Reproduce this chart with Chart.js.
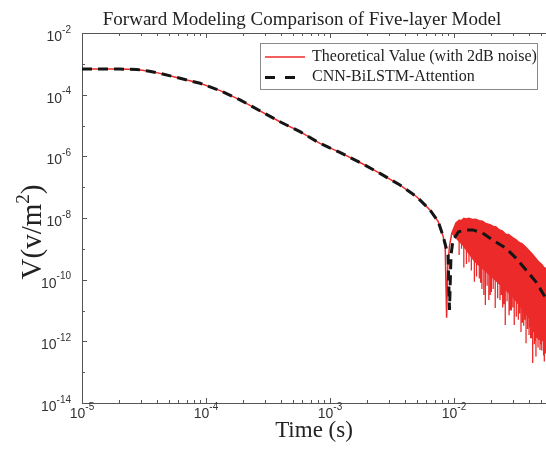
<!DOCTYPE html>
<html><head><meta charset="utf-8">
<script src="https://cdn.jsdelivr.net/npm/chart.js@4.4.0/dist/chart.umd.min.js"></script>
<style>html,body{margin:0;padding:0;background:#fff}#wrap{width:546px;height:451px;position:relative}</style>
</head><body><div id="wrap"><canvas id="c" width="546" height="451"></canvas></div>
<script>
// ---------- text ----------
const titleText = 'Forward Modeling Comparison of Five-layer Model';
const xTitle = 'Time (s)';
const yTitleParts = ['V(v/m', '2', ')'];   // "V(v/m" + superscript "2" + ")"
const seriesNames = ['Theoretical Value (with 2dB noise)', 'CNN-BiLSTM-Attention'];

// ---------- tick labels ----------
const xTickValues = [1e-5, 1e-4, 1e-3, 1e-2];
const xTickExponents = ['-5', '-4', '-3', '-2'];
const yTickValues = [1e-2, 1e-4, 1e-6, 1e-8, 1e-10, 1e-12, 1e-14];
const yTickExponents = ['-2', '-4', '-6', '-8', '-10', '-12', '-14'];

// ---------- theoretical (red): smooth part, dip, then the ragged upper edge of the noisy part ----------
const theoryTime = [1e-5, 1.5e-5, 2e-5, 2.76e-5, 3.5e-5, 4.26e-5, 5.8e-5, 8.96e-5, 1.3e-4, 1.88e-4, 2.72e-4, 3.95e-4, 5.73e-4, 8.3e-4, 1.2e-3, 1.75e-3, 2.53e-3, 3.67e-3, 5.0e-3, 6.4e-3, 7.46e-3, 8.2e-3, 8.5e-3, 8.72e-3, 8.9e-3, 9.2e-3, 9.6e-3,
  1.037e-2, 1.1e-2, 1.15e-2, 1.2e-2, 1.25e-2, 1.32e-2, 1.4e-2, 1.5e-2, 1.59e-2, 1.7e-2, 1.8e-2, 1.95e-2, 2.05e-2, 2.18e-2, 2.3e-2, 2.45e-2, 2.6e-2, 2.75e-2, 2.97e-2, 3.15e-2, 3.35e-2, 3.55e-2, 3.81e-2, 4.05e-2, 4.3e-2, 4.55e-2, 4.84e-2, 5.1e-2, 5.3e-2, 5.52e-2];
const theoryValue = [6.8e-4, 6.8e-4, 6.75e-4, 6.6e-4, 5.75e-4, 4.9e-4, 3.63e-4, 2.34e-4, 1.35e-4, 6.8e-5, 3.0e-5, 1.32e-5, 6.3e-6, 2.63e-6, 1.35e-6, 6.3e-7, 2.8e-7, 1.17e-7, 4.9e-8, 1.82e-8, 7.6e-9, 2.45e-9, 1.0e-9, 5.8e-12, 2.5e-10, 1.26e-9, 3.2e-9,
  6.9e-9, 8.5e-9, 8.3e-9, 9.8e-9, 9.3e-9, 9.8e-9, 8.9e-9, 9.1e-9, 8.2e-9, 7.8e-9, 6.6e-9, 6.1e-9, 5.4e-9, 5.1e-9, 4.2e-9, 3.8e-9, 3.0e-9, 2.9e-9, 2.3e-9, 2.0e-9, 1.6e-9, 1.45e-9, 1.1e-9, 8.5e-10, 6.5e-10, 5.0e-10, 3.7e-10, 3.1e-10, 2.5e-10, 2.3e-10];

// ---------- lower edge of the dense noise band ----------
const bandTime = [9.6e-3, 1.037e-2, 1.175e-2, 1.476e-2, 1.81e-2, 2.35e-2, 2.97e-2, 3.58e-2, 4.31e-2, 5.19e-2, 5.52e-2];
const bandLow = [3.2e-9, 2.2e-9, 1.3e-9, 3.7e-10, 1.8e-10, 6.8e-11, 2.75e-11, 1.05e-11, 3.9e-12, 1.86e-12, 1.3e-12];

// ---------- downward noise spikes (time, start inside band, lowest value) ----------
const spikeTime = [1.1e-2, 1.15e-2, 1.2e-2, 1.26e-2, 1.32e-2, 1.38e-2, 1.46e-2, 1.52e-2, 1.6e-2, 1.64e-2, 1.68e-2, 1.74e-2, 1.79e-2, 1.85e-2, 1.91e-2, 1.96e-2, 2.0e-2, 2.07e-2, 2.15e-2, 2.25e-2, 2.35e-2, 2.41e-2, 2.47e-2, 2.53e-2, 2.59e-2, 2.68e-2, 2.78e-2, 2.84e-2, 2.9e-2, 2.98e-2, 3.06e-2, 3.18e-2, 3.3e-2, 3.38e-2, 3.47e-2, 3.56e-2, 3.65e-2, 3.73e-2, 3.81e-2, 3.92e-2, 4.03e-2, 4.09e-2, 4.15e-2, 4.23e-2, 4.31e-2, 4.38e-2, 4.45e-2, 4.52e-2, 4.58e-2, 4.66e-2, 4.76e-2, 4.86e-2, 4.94e-2, 5.02e-2, 5.1e-2, 5.2e-2, 5.28e-2, 5.35e-2, 5.4e-2, 5.45e-2, 5.5e-2];
const spikeTop = [3.5e-9, 3e-9, 2.5e-9, 2e-9, 1.4e-9, 1.1e-9, 8e-10, 6.5e-10, 5.6e-10, 5e-10, 4.7e-10, 4e-10, 3.7e-10, 3.3e-10, 3e-10, 2.7e-10, 2.5e-10, 2.2e-10, 2e-10, 1.7e-10, 1.35e-10, 1.2e-10, 1.1e-10, 1e-10, 9.5e-11, 8.3e-11, 7.2e-11, 6.6e-11, 6e-11, 5.3e-11, 4.8e-11, 4e-11, 3.2e-11, 2.8e-11, 2.5e-11, 2.2e-11, 1.9e-11, 1.7e-11, 1.5e-11, 1.3e-11, 1.1e-11, 1e-11, 9.5e-12, 8.7e-12, 7.8e-12, 7.2e-12, 6.8e-12, 6.4e-12, 6e-12, 5.5e-12, 5e-12, 4.7e-12, 4.5e-12, 4.2e-12, 4e-12, 3.6e-12, 3.4e-12, 3.2e-12, 3e-12, 2.8e-12, 2.7e-12];
const spikeLow = [6.3e-10, 1e-9, 2.5e-10, 3.2e-10, 3.7e-10, 2e-10, 8.5e-11, 1.26e-10, 1.1e-10, 8e-11, 5e-11, 3.2e-11, 1.5e-11, 6.3e-11, 2.2e-11, 3.2e-11, 4e-11, 5e-11, 1.2e-11, 2.5e-11, 2.2e-11, 3.2e-11, 1.26e-11, 1.6e-11, 3.4e-12, 2e-11, 7e-12, 1e-11, 1e-11, 1.26e-11, 3.4e-12, 6.3e-12, 5e-12, 8e-12, 2e-12, 4e-12, 3.2e-12, 5e-12, 8.7e-13, 2.5e-12, 1.6e-12, 2.8e-12, 1.26e-12, 1.26e-12, 2e-13, 2e-12, 8e-13, 1e-12, 3.2e-13, 1.26e-12, 6.3e-13, 1.1e-12, 5.2e-13, 8e-13, 5e-13, 1e-12, 3.5e-13, 2.2e-13, 8e-13, 4e-13, 5e-13];

// ---------- CNN-BiLSTM-Attention (black dashed) ----------
const cnnTime = [1e-5, 1.5e-5, 2e-5, 2.76e-5, 3.5e-5, 4.26e-5, 5.8e-5, 8.96e-5, 1.3e-4, 1.88e-4, 2.72e-4, 3.95e-4, 5.73e-4, 8.3e-4, 1.2e-3, 1.75e-3, 2.53e-3, 3.67e-3, 5.0e-3, 6.4e-3, 7.46e-3, 8.2e-3, 8.95e-3, 9.2e-3, 9.46e-3, 9.82e-3, 1.087e-2, 1.25e-2, 1.415e-2, 1.7e-2, 2.05e-2, 2.62e-2, 3.16e-2, 3.81e-2, 4.58e-2, 5.19e-2, 5.52e-2];
const cnnValue = [6.8e-4, 6.8e-4, 6.75e-4, 6.6e-4, 5.75e-4, 4.9e-4, 3.63e-4, 2.34e-4, 1.35e-4, 6.8e-5, 3.0e-5, 1.32e-5, 6.3e-6, 2.63e-6, 1.35e-6, 6.3e-7, 2.8e-7, 1.17e-7, 4.9e-8, 1.82e-8, 7.6e-9, 2.45e-9, 6.3e-10, 1.05e-11, 6.3e-10, 1.95e-9, 3.55e-9, 4.1e-9, 4.1e-9, 3.25e-9, 1.95e-9, 1.05e-9, 5e-10, 2.05e-10, 8.5e-11, 3.7e-11, 2.5e-11];

// ---------- styles ----------
const RED = '#ec2a2a';
const BLACK = '#151515';
const AXIS = '#555555';
const LABEL = '#333333';
const SERIF = '"Liberation Serif", "Times New Roman", serif';
const SANS = '"Liberation Sans", Arial, sans-serif';

const toPts = (ts, vs) => ts.map((t, i) => ({x: t, y: vs[i]}));
const spikePts = [];
spikeTime.forEach((t, i) => { spikePts.push({x: t, y: spikeTop[i]}, {x: t, y: spikeLow[i]}, {x: t, y: null}); });

const decor = {
  id: 'decor',
  afterDraw(chart) {
    const ctx = chart.ctx, xs = chart.scales.x, ys = chart.scales.y, a = chart.chartArea;
    ctx.save();
    // top border
    ctx.strokeStyle = AXIS; ctx.lineWidth = 1;
    ctx.beginPath(); ctx.moveTo(a.left, Math.round(a.top) + 0.5); ctx.lineTo(a.right, Math.round(a.top) + 0.5); ctx.stroke();
    // x ticks (inward, bottom + top)
    for (let k = -5; k <= -2; k++) {
      for (let m = 1; m <= 9; m++) {
        const v = m * Math.pow(10, k);
        if (v < xs.min || v > xs.max) continue;
        const px = Math.round(xs.getPixelForValue(v)) + 0.5;
        const len = m === 1 ? 5 : 3;
        ctx.beginPath();
        ctx.moveTo(px, a.bottom); ctx.lineTo(px, a.bottom - len);
        ctx.moveTo(px, a.top); ctx.lineTo(px, a.top + len);
        ctx.stroke();
      }
    }
    // y ticks (inward)
    for (let k = -14; k <= -2; k++) {
      const py = Math.round(ys.getPixelForValue(Math.pow(10, k))) + 0.5;
      const len = (k % 2 === 0) ? 5 : 3;
      ctx.beginPath(); ctx.moveTo(a.left, py); ctx.lineTo(a.left + len, py); ctx.stroke();
    }
    // tick labels
    ctx.fillStyle = LABEL;
    ctx.textBaseline = 'middle';
    ctx.textAlign = 'left';
    const baseFont = '14px ' + SANS;
    const expFont = '10px ' + SANS;
    yTickValues.forEach((v, i) => {
      const py = ys.getPixelForValue(v);
      ctx.font = expFont; const ew = ctx.measureText(yTickExponents[i]).width;
      ctx.font = baseFont; const bw = ctx.measureText('10').width;
      const right = 71;
      ctx.font = baseFont; ctx.fillText('10', right - ew - bw, py + 4);
      ctx.font = expFont; ctx.fillText(yTickExponents[i], right - ew, py - 3);
    });
    xTickValues.forEach((v, i) => {
      const px = xs.getPixelForValue(v);
      ctx.font = expFont; const ew = ctx.measureText(xTickExponents[i]).width;
      ctx.font = baseFont; const bw = ctx.measureText('10').width;
      const left = px - (bw + ew) / 2;
      ctx.font = baseFont; ctx.fillText('10', left, 414);
      ctx.font = expFont; ctx.fillText(xTickExponents[i], left + bw, 407);
    });
    // title
    ctx.fillStyle = '#222';
    ctx.font = '19px ' + SERIF;
    ctx.textAlign = 'center'; ctx.textBaseline = 'alphabetic';
    ctx.fillText(titleText, 302, 25);
    // y axis title (rotated, with superscript)
    ctx.save();
    ctx.translate(41, 232);
    ctx.rotate(-Math.PI / 2);
    ctx.textAlign = 'left'; ctx.textBaseline = 'alphabetic';
    const bigF = '29px ' + SERIF, supF = '19px ' + SERIF;
    ctx.font = bigF; const w0 = ctx.measureText(yTitleParts[0]).width, w2 = ctx.measureText(yTitleParts[2]).width;
    ctx.font = supF; const w1 = ctx.measureText(yTitleParts[1]).width;
    let sx = -(w0 + w1 + w2) / 2;
    ctx.font = bigF; ctx.fillText(yTitleParts[0], sx, 0); sx += w0;
    ctx.font = supF; ctx.fillText(yTitleParts[1], sx, -12); sx += w1;
    ctx.font = bigF; ctx.fillText(yTitleParts[2], sx, 0);
    ctx.restore();
    // legend
    const lx = 260, ly = 43, lw = 277, lh = 46;
    ctx.fillStyle = '#fff'; ctx.fillRect(lx, ly, lw, lh);
    ctx.strokeStyle = '#8a8a8a'; ctx.lineWidth = 1;
    ctx.strokeRect(lx + 0.5, ly + 0.5, lw, lh);
    const ds = chart.data.datasets;
    ctx.lineWidth = ds[0].borderWidth; ctx.strokeStyle = ds[0].borderColor; ctx.setLineDash([]);
    ctx.beginPath(); ctx.moveTo(265, 57); ctx.lineTo(305, 57); ctx.stroke();
    ctx.lineWidth = ds[3].borderWidth; ctx.strokeStyle = ds[3].borderColor; ctx.setLineDash([10, 10]);
    ctx.beginPath(); ctx.moveTo(265, 77.5); ctx.lineTo(300, 77.5); ctx.stroke();
    ctx.setLineDash([]);
    ctx.fillStyle = '#222'; ctx.textAlign = 'left'; ctx.textBaseline = 'middle';
    ctx.font = '16px ' + SERIF;
    ctx.fillText(ds[0].label, 312, 57);
    ctx.fillText(ds[3].label, 312, 77);
    ctx.restore();
  }
};

new Chart(document.getElementById('c'), {
  type: 'line',
  data: {
    datasets: [
      {label: seriesNames[0], data: toPts(theoryTime, theoryValue), borderColor: RED, backgroundColor: RED, borderWidth: 1.5, pointRadius: 0, fill: false, tension: 0, order: 2},
      {label: 'band', data: toPts(bandTime, bandLow), borderColor: RED, backgroundColor: RED, borderWidth: 1, pointRadius: 0, fill: '-1', tension: 0, order: 2},
      {label: 'spikes', data: spikePts, borderColor: RED, borderWidth: 1.3, pointRadius: 0, fill: false, spanGaps: false, tension: 0, order: 2},
      {label: seriesNames[1], data: toPts(cnnTime, cnnValue), borderColor: BLACK, borderWidth: 3, borderDash: [10, 6], pointRadius: 0, fill: false, tension: 0, order: 0}
    ]
  },
  options: {
    responsive: false, animation: false, devicePixelRatio: 1,
    layout: {padding: {top: 33, right: 0, left: 0, bottom: 0}},
    plugins: {legend: {display: false}, title: {display: false}, tooltip: {enabled: false}},
    scales: {
      x: {type: 'logarithmic', min: 1e-5, max: 0.0552,
          grid: {display: false}, border: {display: true, color: AXIS, width: 1},
          ticks: {display: false},
          title: {display: true, text: xTitle, color: '#222', font: {family: SERIF, size: 23}, padding: {top: 0, bottom: 6}},
          afterFit(s) { s.height = 48; }},
      y: {type: 'logarithmic', min: 1e-14, max: 1e-2,
          grid: {display: false}, border: {display: true, color: AXIS, width: 1},
          ticks: {display: false},
          title: {display: false},
          afterFit(s) { s.width = 82; }}
    }
  },
  plugins: [decor]
});
</script></body></html>
